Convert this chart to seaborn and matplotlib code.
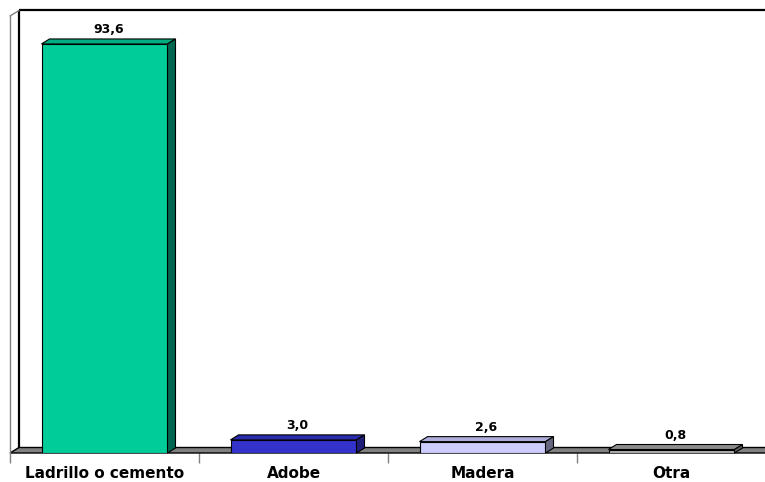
import matplotlib
matplotlib.use("Agg")
import matplotlib.pyplot as plt
from matplotlib.patches import Polygon
import seaborn as sns
import pandas as pd

categories = ["Ladrillo o cemento", "Adobe", "Madera", "Otra"]
values = [93.6, 3.0, 2.6, 0.8]
value_labels = ["93,6", "3,0", "2,6", "0,8"]

front_colors = ["#00CC99", "#3333CC", "#CCCCFF", "#B2B2B2"]
top_colors = ["#00AD82", "#2B2BAD", "#ADADD9", "#8C8C8C"]
side_colors = ["#006650", "#1F1F7A", "#666680", "#5A5A5A"]

sns.set_style("white")
plt.rcParams["font.family"] = ["DejaVu Sans"]

W, H = 765, 482
fig = plt.figure(figsize=(W / 100, H / 100), dpi=100)
ax_l, ax_r, ax_b, ax_t = 10, 766, 453, 16
ax = fig.add_axes([ax_l / W, (H - ax_b) / H, (ax_r - ax_l) / W, (ax_b - ax_t) / H])

df = pd.DataFrame({"cat": categories, "val": values})
sns.barplot(data=df, x="cat", y="val", hue="cat", palette=front_colors,
            saturation=1, width=2 / 3, edgecolor="black", linewidth=0.8,
            legend=False, ax=ax, zorder=3)

xmin, xmax, ymin, ymax = -0.5, 3.5, 0, 100
ax.set_xlim(xmin, xmax)
ax.set_ylim(ymin, ymax)

pxx = (ax_r - ax_l) / (xmax - xmin)
pxy = (ax_b - ax_t) / (ymax - ymin)

# bar depth
bdx, bdy = 8 / pxx, 5 / pxy
# wall depth
wdx, wdy = 9 / pxx, 5.5 / pxy

# floor
floor = Polygon([(xmin, 0), (xmax + 0.1, 0), (xmax + 0.1 + wdx, wdy), (xmin + wdx, wdy)],
                closed=True, facecolor="#808080", edgecolor="black", linewidth=1.0,
                clip_on=False, zorder=1)
ax.add_patch(floor)

# back wall lines
ax.plot([xmin + wdx, xmin + wdx], [wdy, ymax + wdy], color="black", lw=1.6,
        clip_on=False, zorder=1.5, solid_capstyle="butt")
ax.plot([xmin + wdx, xmax + 0.2], [ymax + wdy, ymax + wdy], color="black", lw=1.6,
        clip_on=False, zorder=1.5, solid_capstyle="butt")
# side wall edges
ax.plot([xmin, xmin], [0, ymax], color="#808080", lw=1.0, clip_on=False, zorder=1.5)
ax.plot([xmin, xmin + wdx], [ymax, ymax + wdy], color="#808080", lw=1.0,
        clip_on=False, zorder=1.5)

# 3D faces on bars
for i, p in enumerate(ax.patches[:len(values)]):
    x0 = p.get_x()
    w = p.get_width()
    h = p.get_height()
    x1 = x0 + w
    top = Polygon([(x0, h), (x1, h), (x1 + bdx, h + bdy), (x0 + bdx, h + bdy)],
                  closed=True, facecolor=top_colors[i], edgecolor="black",
                  linewidth=0.8, zorder=3, clip_on=False)
    side = Polygon([(x1, 0), (x1 + bdx, bdy), (x1 + bdx, h + bdy), (x1, h)],
                   closed=True, facecolor=side_colors[i], edgecolor="black",
                   linewidth=0.8, zorder=3, clip_on=False)
    ax.add_patch(top)
    ax.add_patch(side)
    ax.text(x0 + w / 2 + bdx / 2, h + bdy + 2.5 / pxy, value_labels[i],
            ha="center", va="bottom", fontsize=9, fontweight="bold",
            color="black", zorder=4)

for s in ax.spines.values():
    s.set_visible(False)
ax.set_facecolor("none")
ax.set_xlabel("")
ax.set_ylabel("")
ax.set_yticks([])
ax.set_xticks(range(len(categories)))
ax.set_xticklabels(categories, fontsize=11, fontweight="bold", color="black")
ax.tick_params(axis="x", which="major", length=0, pad=9, bottom=False)
ax.set_xticks([-0.5, 0.5, 1.5, 2.5, 3.5], minor=True)
ax.tick_params(axis="x", which="minor", length=7, color="#808080", width=1.0,
               direction="out", bottom=True)

fig.savefig("out.png", dpi=100)
